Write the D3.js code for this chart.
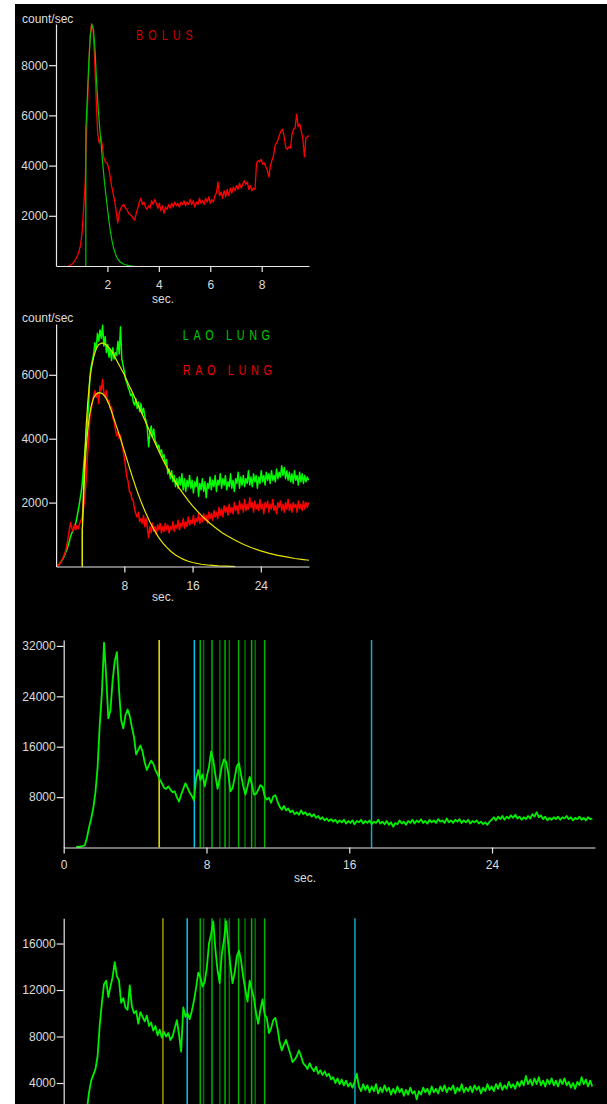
<!DOCTYPE html>
<html>
<head>
<meta charset="utf-8">
<script src="https://cdn.jsdelivr.net/npm/d3@7/dist/d3.min.js"></script>
<style>
  html, body { margin: 0; padding: 0; background: #fff; }
  svg { display: block; }
  text { font-family: "Liberation Sans", Arial, sans-serif; }
</style>
</head>
<body>
<svg id="chart" width="607" height="1104"></svg>
<script>
// ---------- Panel 1: bolus curve (count/sec vs sec) ----------
const bolusStart = 0.48, bolusStep = 0.06;
const bolusCounts = [
  10,30,60,100,200,300,430,600,850,1400,
  2400,3400,5700,7400,9100,9650,9450,8300,6700,5300,
  4900,5150,4800,4300,4150,4100,3950,3600,3200,2900,
  2600,2200,1720,2100,2300,2400,2450,2300,2250,2100,
  2050,2000,1900,1830,2100,2300,2550,2700,2450,2550,
  2350,2250,2400,2300,2600,2450,2650,2500,2300,2500,
  2200,2400,2100,2350,2250,2450,2300,2500,2350,2550,
  2400,2500,2350,2550,2450,2600,2400,2550,2450,2650,
  2450,2600,2350,2550,2450,2700,2500,2600,2450,2700,
  2550,2750,2500,2650,2550,2800,2900,3350,2800,2950,
  2700,3000,2750,3050,2800,3100,2900,3150,3000,3200,
  3050,3300,3100,3250,3400,3250,3350,3050,3200,3000,
  3100,3050,4100,4200,4150,4250,4050,4100,3950,3800,
  3550,4000,4200,4400,4800,4900,5050,5250,5400,5450,
  5100,4700,4650,4750,4700,5250,5450,5500,6050,5550,
  5650,5350,5100,4350,5100,5150,5200
];
// gamma-variate fit of the first pass [sec, count/sec]
const bolusFit = [
  [1.16,0],[1.16,5400],[1.22,6800],[1.28,8200],[1.34,9200],[1.40,9620],[1.46,9400],
  [1.52,8600],[1.58,7300],[1.64,6300],[1.70,5500],[1.76,4800],[1.82,4050],[1.88,3400],
  [1.94,2850],[2.00,2300],[2.06,1800],[2.12,1350],[2.18,1000],[2.24,720],[2.30,520],
  [2.36,360],[2.42,250],[2.50,160],[2.60,90],[2.70,50],[2.80,25],[2.90,10],[3.00,0]
];
const bolusXTicks = [2, 4, 6, 8];
const bolusYTicks = [2000, 4000, 6000, 8000];

// ---------- Panel 2: lung curves ----------
const lungStart = 0.2, lungStep = 0.15;
const laoCounts = [
  30,60,120,180,240,320,430,520,650,780,
  950,1050,1150,1250,1350,1550,1770,2000,2250,2550,
  3050,3500,4000,4450,5000,5900,6250,6450,6650,7000,
  6800,7300,7050,7400,7150,7550,6900,7200,6700,6950,
  6550,6800,6450,6850,6500,6700,6600,7050,6650,7500,
  6500,6300,6100,5850,5750,5600,5500,5350,5400,5150,
  5050,5250,4950,5150,4850,5100,4800,4950,4700,4550,
  4300,3750,4200,4400,4050,4300,3950,3850,3700,3800,
  3550,3650,3400,3500,3200,3350,2900,3050,2750,3000,
  2650,2850,2500,2750,2450,2800,2550,2900,2400,2750,
  2350,2700,2500,2850,2450,2700,2300,2650,2500,2800,
  2200,2600,2400,2750,2350,2650,2150,2600,2450,2800,
  2400,2700,2500,2850,2350,2700,2550,2900,2450,2750,
  2550,2850,2400,2650,2500,2900,2450,2700,2350,2750,
  2600,2950,2450,2800,2550,2850,2500,2750,2600,3000,
  2550,2800,2500,2900,2650,2850,2450,2800,2600,3000,
  2650,2850,2550,2950,2700,2900,2600,3000,2700,2850,
  2650,3050,2750,2950,2800,3150,2850,3100,2750,3000,
  2700,2950,2650,2900,2600,3000,2700,2850,2550,2950,
  2650,2900,2600,2850,2650,2800,2700
];
const raoCounts = [
  20,60,110,180,270,370,480,640,900,1150,
  1380,1200,1100,1300,1150,1280,1180,1350,1420,1550,
  1800,2100,2650,3350,3950,4650,4900,5150,5350,5500,
  5300,5450,5100,5650,5500,5850,5450,5300,5500,5150,
  5200,4950,5000,4650,4550,4300,4100,4200,4000,4100,
  3850,3650,3400,3100,2800,2650,2350,2300,2100,2050,
  1800,1650,1550,1700,1400,1500,1350,1600,1250,1500,
  1200,900,1250,1050,1350,1100,1250,1000,1300,1150,
  1350,1050,1250,1100,1350,1150,1300,1050,1250,1150,
  1400,1100,1300,1200,1450,1150,1350,1250,1500,1200,
  1400,1250,1550,1300,1450,1350,1600,1300,1500,1400,
  1650,1350,1550,1400,1650,1450,1600,1350,1700,1500,
  1650,1450,1750,1550,1700,1500,1850,1600,1800,1550,
  1900,1700,1850,1600,1950,1700,1850,1650,2000,1750,
  1900,1650,2050,1800,1950,1700,2100,1750,1950,1800,
  2150,1850,2000,1700,2050,1800,1950,1750,2100,1800,
  1950,1650,2000,1850,2050,1700,1950,1800,2100,1750,
  1900,1650,2000,1850,2050,1750,1950,1700,2000,1800,
  2100,1750,1950,1700,2000,1850,1950,1700,2050,1800,
  1950,1750,2050,1800,2000,1850,2000
];
const laoFit = [
  [3.07,0],[3.07,1100],[3.2,2300],[3.35,3400],[3.5,4300],[3.7,5100],[3.9,5700],[4.1,6150],
  [4.4,6550],[4.7,6820],[5.0,6950],[5.4,7000],[5.8,6950],[6.2,6850],[6.6,6700],[7.0,6500],
  [7.5,6250],[8.0,6000],[8.5,5700],[9.0,5420],[9.5,5120],[10.0,4820],[10.5,4520],[11.0,4220],
  [11.5,3930],[12.0,3640],[12.5,3360],[13.0,3100],[13.5,2860],[14.0,2640],[14.5,2430],
  [15.0,2240],[15.5,2060],[16.0,1900],[16.5,1750],[17.0,1610],[17.5,1480],[18.0,1360],
  [18.5,1250],[19.0,1150],[19.5,1050],[20.0,970],[21.0,820],[22.0,690],[23.0,580],
  [24.0,490],[25.0,410],[26.0,350],[27.0,300],[28.0,250],[29.0,215],[29.65,195]
];
const raoFit = [
  [3.07,0],[3.07,1100],[3.2,2000],[3.35,2900],[3.5,3600],[3.7,4250],[3.9,4700],[4.1,5000],
  [4.4,5280],[4.7,5400],[5.0,5440],[5.4,5420],[5.8,5300],[6.2,5080],[6.6,4780],[7.0,4450],
  [7.5,4050],[8.0,3620],[8.5,3180],[9.0,2760],[9.5,2360],[10.0,2000],[10.5,1680],[11.0,1390],
  [11.5,1140],[12.0,920],[12.5,740],[13.0,590],[13.5,460],[14.0,360],[14.5,280],[15.0,215],
  [15.5,165],[16.0,125],[17.0,70],[18.0,40],[19.0,22],[20.0,10],[21.0,0]
];
const lungXTicks = [8, 16, 24];
const lungYTicks = [2000, 4000, 6000];

// ---------- Panels 3 & 4: time-activity curves with cycle markers ----------
const tacStart = 0.7, tacStep = 0.12;
const tacCountsA = [
  100,150,120,200,350,1500,3200,4600,6300,8800,
  12800,19500,24500,32500,27200,20500,21800,26500,29600,31000,
  25000,20200,18900,21000,21900,20900,19100,17500,14800,15500,
  16200,15200,13500,12300,13100,13800,13300,12300,11600,10800,
  10200,9500,9300,9700,9200,8800,8900,8000,7300,8400,
  9300,10200,9500,8700,8200,7500,11000,12300,10700,11600,
  9700,11300,12800,15200,13900,11500,9300,11000,12900,14000,
  13600,11800,8900,9400,11100,12900,13400,11500,9700,8400,
  9700,11200,10100,8400,8500,9200,9900,9600,8200,7600,
  7900,7100,8100,8300,7300,6500,6000,6600,5900,6200,
  5600,5900,5300,5600,5200,5900,5300,5600,5100,5400,
  4900,5300,4700,5000,4500,4800,4300,4600,4200,4500,
  4100,4400,3900,4300,4000,4400,3800,4200,3900,4300,
  3700,4200,4000,4400,3800,4200,3900,4300,3700,4100,
  3900,4400,3800,4100,3700,4200,3600,4000,3300,3900,
  3700,4300,3800,4100,3600,4200,3900,4400,3800,4300,
  4000,4500,3900,4200,3800,4400,4000,4300,3900,4500,
  4100,4300,3900,4600,4000,4300,3900,4400,4100,4500,
  3900,4300,4000,4400,3800,4200,4000,4300,3800,4100,
  3700,4000,3600,4100,4400,4800,4300,4900,4500,5000,
  4400,4900,4600,5100,4700,5200,4600,4900,4400,4800,
  4500,5000,4600,5300,4900,5600,4800,5100,4500,4900,
  4300,4700,4400,4800,4500,4900,4400,4800,4600,5000,
  4500,4800,4300,4700,4500,4900,4400,4700,4300,4800,
  4500,4600
];
const tacCountsB = [
  0,50,150,400,900,1700,3200,4200,4700,5200,
  6300,9000,10900,12500,12800,11400,12300,13100,14400,13200,
  12800,10900,11300,10500,10300,12400,10600,10000,10200,9100,
  10100,9700,9300,9800,8900,9200,8500,8900,8100,8600,
  7900,8400,8000,8300,7700,8000,8700,9400,8200,6700,
  10500,9700,10000,9500,10200,11100,12200,13500,13100,12300,
  12700,13900,16000,16800,17900,15500,13700,12600,15100,16300,
  17900,16000,14100,12600,13500,14900,15400,14500,13100,12000,
  11000,12800,12000,11300,10000,9100,10300,11200,9900,9600,
  8300,8700,9400,9600,8700,7500,6800,7300,7700,7100,
  6500,5800,6000,6300,6800,6300,5700,5500,5200,5700,
  5300,5000,5400,4800,5100,4700,5000,4600,4800,4300,
  4500,4000,4400,3900,4300,3800,4200,3700,4000,3600,
  4100,4800,3700,3300,3900,3400,3800,3200,3700,3300,
  3900,3100,3600,3200,3800,3300,3600,3000,3500,3100,
  3700,3200,3500,2900,3400,3000,3600,3100,3300,2600,
  3300,3000,3600,3200,3500,3000,3700,3200,3500,3100,
  3700,3300,3800,3200,3600,3400,3800,3100,3600,3300,
  3900,3200,3600,3300,3700,3200,3800,3400,3700,3100,
  3600,3300,3900,3400,3700,3300,3900,3500,4000,3400,
  3800,3500,4100,3600,3900,3500,4100,3700,4200,3800,
  4600,3900,4300,3800,4400,3900,4500,3800,4200,3700,
  4300,3900,4400,3800,4200,3700,4300,3900,4400,3800,
  4100,3600,4000,3500,4100,3800,4500,3900,4300,3700,
  4200,3700
];
// beat markers (sec): alternating end-diastole / end-systole
const cycleMarks = [7.65, 7.84, 8.31, 8.75, 9.04, 9.28, 9.80, 10.16, 10.53, 10.73, 11.26];
// [bolus start, window start, window end] markers (sec)
const limitsA = [5.35, 7.32, 17.25];
const limitsB = [5.56, 6.92, 16.32];
const tacXTicks = [0, 8, 16, 24];
const tacYTicksA = [8000, 16000, 24000, 32000];
const tacYTicksB = [4000, 8000, 12000, 16000];

// ---------- drawing ----------
const svg = d3.select("#chart");
svg.append("rect").attr("width", 607).attr("height", 1104).attr("fill", "#fff");
svg.append("rect").attr("x", 15).attr("y", 4).attr("width", 592).attr("height", 1100).attr("fill", "#000");

const AXIS = "#e8e8e8", LABEL = "#dcdcdc";

function axes(g, x, y, xTicks, yTicks, xPad) {
  const ax = g.append("g")
    .attr("transform", `translate(0,${y.range()[0]})`)
    .call(d3.axisBottom(x).tickValues(xTicks).tickSize(6).tickSizeOuter(0)
      .tickPadding(xPad).tickFormat(d3.format("d")));
  const ay = g.append("g")
    .attr("transform", `translate(${x.range()[0]},0)`)
    .call(d3.axisLeft(y).tickValues(yTicks).tickSize(7).tickSizeOuter(0)
      .tickPadding(1).tickFormat(d3.format("d")));
  [ax, ay].forEach(a => {
    a.selectAll("path, line").attr("stroke", AXIS).attr("stroke-width", 1.2);
    a.selectAll("text").attr("fill", LABEL).style("font-size", "12px")
      .style("font-family", "'Liberation Sans', Arial, sans-serif");
  });
}

function seriesLine(g, x, y, values, t0, dt, color, width) {
  const line = d3.line().x((d, i) => x(t0 + i * dt)).y(d => y(d));
  g.append("path").datum(values).attr("d", line)
    .attr("fill", "none").attr("stroke", color).attr("stroke-width", width || 1.2)
    .attr("stroke-linejoin", "round");
}

function pairLine(g, x, y, pairs, color) {
  const line = d3.line().x(d => x(d[0])).y(d => y(d[1]));
  g.append("path").datum(pairs).attr("d", line)
    .attr("fill", "none").attr("stroke", color).attr("stroke-width", 1.2);
}

function plain(g, xPos, yPos, str, color) {
  g.append("text").attr("x", xPos).attr("y", yPos).text(str)
    .attr("fill", color || LABEL).style("font-size", "12px");
}

function spaced(g, xPos, yPos, str, color, spacing) {
  // condensed, letter-spaced caption
  g.append("text").attr("transform", `translate(${xPos},${yPos}) scale(0.72,1)`)
    .text(str).attr("fill", color).style("font-size", "15px")
    .style("letter-spacing", spacing + "px");
}

// Panel 1
{
  const g = svg.append("g");
  const x = d3.scaleLinear().domain([0, 9.84]).range([56, 309]);
  const y = d3.scaleLinear().domain([0, 9640]).range([266, 24]);
  seriesLine(g, x, y, bolusCounts, bolusStart, bolusStep, "#ff0000", 1.3);
  pairLine(g, x, y, bolusFit, "#00c800");
  axes(g, x, y, bolusXTicks, bolusYTicks, 8.5);
  plain(g, 22, 22.5, "count/sec");
  plain(g, 152, 302.5, "sec.");
  spaced(g, 136, 40, "BOLUS", "#cc0000", 7);
}

// Panel 2
{
  const g = svg.append("g");
  const x = d3.scaleLinear().domain([0, 29.65]).range([56.1, 309]);
  const y = d3.scaleLinear().domain([0, 7590]).range([566.5, 324]);
  seriesLine(g, x, y, laoCounts, lungStart, lungStep, "#00ff00", 1.5);
  seriesLine(g, x, y, raoCounts, lungStart, lungStep, "#ff0000", 1.5);
  pairLine(g, x, y, laoFit, "#e6e600");
  pairLine(g, x, y, raoFit, "#e6e600");
  axes(g, x, y, lungXTicks, lungYTicks, 9);
  plain(g, 22, 322, "count/sec");
  plain(g, 152, 601, "sec.");
  spaced(g, 182.7, 340, "LAO LUNG", "#00c800", 6.5);
  spaced(g, 182.7, 375, "RAO LUNG", "#e80000", 6.5);
}

function markerLines(g, x, y, limits, limitColors) {
  const [y0, y1] = y.range();
  cycleMarks.forEach((t, i) => {
    g.append("line").attr("x1", x(t)).attr("x2", x(t)).attr("y1", y0).attr("y2", y1)
      .attr("stroke", i % 2 === 0 ? "#00b400" : "#007400").attr("stroke-width", 1.5);
  });
  limits.forEach((t, i) => {
    g.append("line").attr("x1", x(t)).attr("x2", x(t)).attr("y1", y0).attr("y2", y1)
      .attr("stroke", limitColors[i]).attr("stroke-width", 1.5);
  });
}

// Panel 3
{
  const g = svg.append("g");
  const x = d3.scaleLinear().domain([0, 29.77]).range([63.7, 595]);
  const y = d3.scaleLinear().domain([0, 32940]).range([847.5, 640]);
  markerLines(g, x, y, limitsA, ["#e8e800", "#00c8f0", "#18a8c0"]);
  seriesLine(g, x, y, tacCountsA, tacStart, tacStep, "#00f000", 1.8);
  axes(g, x, y, tacXTicks, tacYTicksA, 7);
  plain(g, 294, 881.5, "sec.");
}

// Panel 4 (its time axis lies below the visible area)
{
  const g = svg.append("g");
  const x = d3.scaleLinear().domain([0, 29.77]).range([63.7, 595]);
  const y = d3.scaleLinear().domain([0, 18170]).range([1129.5, 918.3]);
  markerLines(g, x, y, limitsB, ["#a89a00", "#00c8e8", "#10a8c0"]);
  seriesLine(g, x, y, tacCountsB, tacStart, tacStep, "#00f000", 1.8);
  axes(g, x, y, [], tacYTicksB, 7);
}
</script>
</body>
</html>
